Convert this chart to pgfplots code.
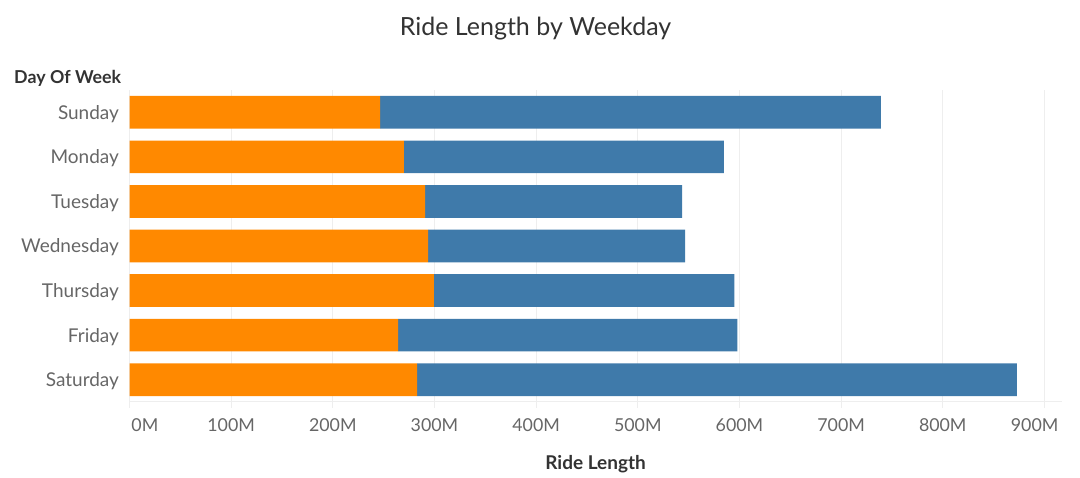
\documentclass[border=0pt]{standalone}
\usepackage{pgfplots}
\pgfplotsset{compat=1.18}
\usepackage{fontspec}
\setmainfont{Lato}
\definecolor{barorange}{RGB}{255,137,0}
\definecolor{barblue}{RGB}{63,122,170}
\definecolor{ticktext}{RGB}{102,102,102}
\definecolor{titletext}{RGB}{51,51,51}
\definecolor{gridc}{RGB}{238,238,238}
\begin{document}
\begin{tikzpicture}[x=1pt,y=1pt]
\path[use as bounding box] (0,0) rectangle (1080,478);
\begin{axis}[
  at={(129.5pt,76pt)}, anchor=south west,
  scale only axis, width=932.2pt, height=312pt,
  xbar stacked, bar width=32.7pt,
  xmin=0, xmax=917, ymin=-0.5, ymax=6.5, y dir=reverse,
  ytick={0,...,6},
  yticklabels={Sunday,Monday,Tuesday,Wednesday,Thursday,Friday,Saturday},
  xtick={0,100,...,900},
  xticklabels={\makebox[0pt][l]{\hspace{2pt}0M},100M,200M,300M,400M,500M,600M,700M,800M,\makebox[0pt][r]{900M\hspace{-14pt}}},
  axis x line*=bottom, axis y line*=left,
  x axis line style={draw=gridc, line width=1pt},
  y axis line style={draw=none},
  xtick pos=bottom, tick align=outside,
  x tick style={draw=gridc, line width=1pt}, major tick length=6pt,
  y tick style={draw=none},
  xmajorgrids, grid style={draw=gridc, line width=1pt},
  xticklabel style={font=\fontsize{17.8}{21}\selectfont, text=ticktext, yshift=-7pt},
  yticklabel style={font=\fontsize{19}{22}\selectfont, text=ticktext, xshift=-1pt, yshift=-1.5pt},
]
\addplot[fill=barorange, draw=none] coordinates {(246.5,0) (270,1) (290.7,2) (293.7,3) (299.3,4) (264.2,5) (282.9,6)};
\addplot[fill=barblue, draw=none] coordinates {(492.5,0) (314.6,1) (252.9,2) (252.8,3) (295.7,4) (333.8,5) (590,6)};
\end{axis}
\node[text=titletext, font=\fontsize{25}{30}\selectfont] at (535.5,449) {Ride Length by Weekday};
\node[anchor=west, inner sep=0pt, text=titletext, font=\fontsize{17.8}{21}\selectfont\bfseries] at (14,399.5) {Day Of Week};
\node[inner sep=0pt, text=titletext, font=\fontsize{19}{22}\selectfont\bfseries] at (595.6,14) {Ride Length};
\end{tikzpicture}
\end{document}
